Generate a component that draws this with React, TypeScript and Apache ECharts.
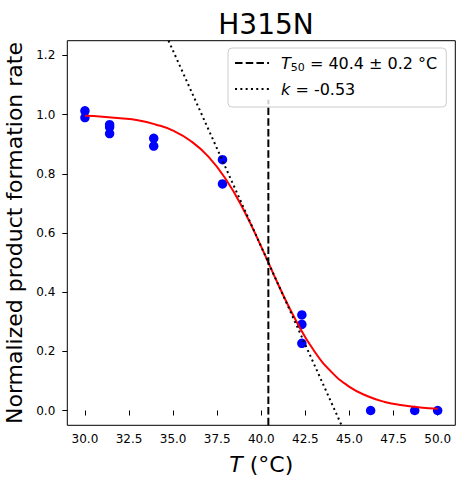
import React, { useEffect, useRef } from "react";
import * as echarts from "echarts";

const FONT = "DejaVu Sans";

// Measured data (temperature °C, normalized rate)
const POINT_T = [30, 30, 31.4, 31.4, 31.4, 33.9, 33.9, 37.8, 37.8, 42.3, 42.3, 42.3, 46.2, 48.7, 50];
const POINT_RATE = [1.013, 0.99, 0.966, 0.958, 0.936, 0.92, 0.894, 0.848, 0.766, 0.323, 0.291, 0.227, 0, 0, 0];

// Fitted sigmoid curve
const FIT_T = [30, 31, 32, 33, 34, 35, 36, 37, 38, 39, 40, 41, 42, 43, 44, 45, 46, 47, 48, 49, 50];
const FIT_RATE = [0.996, 0.993, 0.988, 0.981, 0.967, 0.946, 0.911, 0.858, 0.781, 0.678, 0.553, 0.421, 0.3, 0.201, 0.129, 0.08, 0.049, 0.029, 0.0175, 0.0104, 0.0061];

// Fit parameters
const T50 = 40.4;
const T50_ERR = 0.2;
const K = -0.53;

// Vertical T50 marker extent
const VLINE_Y = [-0.05, 1.05];
// Tangent line extent (temperatures)
const TANGENT_T = [34, 45];

const X_TICKS = [30, 32.5, 35, 37.5, 40, 42.5, 45, 47.5, 50];
const Y_TICKS = [0, 0.2, 0.4, 0.6, 0.8, 1.0, 1.2];

export default function App() {
  const ref = useRef<HTMLDivElement>(null);

  useEffect(() => {
    if (!ref.current) return;
    const chart = echarts.init(ref.current, null, { renderer: "svg" });

    const scatterData = POINT_T.map((t, i) => [t, POINT_RATE[i]]);
    const fitData = FIT_T.map((t, i) => [t, FIT_RATE[i]]);
    const vlineData = VLINE_Y.map((y) => [T50, y]);
    const tangentData = TANGENT_T.map((t) => [t, 0.5 + (K / 4) * (t - T50)]);

    chart.setOption({
      animation: false,
      textStyle: { fontFamily: FONT },
      title: {
        text: "H315N",
        left: 261,
        top: 5,
        textAlign: "center",
        textStyle: { fontSize: 28, fontWeight: "normal", color: "#000", fontFamily: FONT },
      },
      grid: {
        left: 67.3,
        right: 8.7,
        top: 40.7,
        bottom: 61.7,
        show: true,
        borderColor: "#000",
        borderWidth: 1,
        backgroundColor: "transparent",
        containLabel: false,
        outerBoundsMode: "none",
      },
      legend: {
        data: ["T50", "k"],
        orient: "vertical",
        right: 17.7,
        top: 48,
        padding: [5, 9, 8, 6],
        itemGap: 6,
        itemWidth: 34,
        itemHeight: 14,
        selectedMode: false,
        backgroundColor: "rgba(255,255,255,0.8)",
        borderColor: "#cccccc",
        borderWidth: 1,
        borderRadius: 4,
        itemStyle: { opacity: 0 },
        formatter: (name: string) =>
          name === "T50"
            ? `{i|T}{s|50} = ${T50.toFixed(1)} ± ${T50_ERR.toFixed(1)} °C`
            : `{i|k} = ${K.toFixed(2)}`,
        textStyle: {
          fontSize: 16,
          color: "#000",
          fontFamily: FONT,
          lineHeight: 20,
          padding: [0, 0, 0, 7],
          rich: {
            i: { fontSize: 16, fontStyle: "italic", fontFamily: FONT, color: "#000", lineHeight: 20 },
            s: { fontSize: 11, fontFamily: FONT, color: "#000", lineHeight: 11, verticalAlign: "bottom" },
          },
        },
      },
      xAxis: {
        type: "value",
        min: 29,
        max: 51,
        name: "{i|T} (°C)",
        nameLocation: "middle",
        nameGap: 28,
        nameTextStyle: {
          fontSize: 22,
          color: "#000",
          fontFamily: FONT,
          rich: { i: { fontSize: 22, fontStyle: "italic", fontFamily: FONT, color: "#000" } },
        },
        axisLine: { show: false },
        splitLine: { show: false },
        axisTick: { show: true, inside: false, length: 5, customValues: X_TICKS, lineStyle: { color: "#000", width: 1 } },
        axisLabel: {
          customValues: X_TICKS,
          formatter: (v: number) => v.toFixed(1),
          fontSize: 12,
          color: "#000",
          fontFamily: FONT,
          margin: 8,
        },
      },
      yAxis: {
        type: "value",
        min: -0.05,
        max: 1.25,
        name: "Normalized product formation rate",
        nameLocation: "middle",
        nameGap: 36,
        nameTextStyle: { fontSize: 22, color: "#000", fontFamily: FONT },
        axisLine: { show: false },
        splitLine: { show: false },
        axisTick: { show: true, inside: false, length: 5, customValues: Y_TICKS, lineStyle: { color: "#000", width: 1 } },
        axisLabel: {
          customValues: Y_TICKS,
          formatter: (v: number) => v.toFixed(1),
          fontSize: 12,
          color: "#000",
          fontFamily: FONT,
          margin: 12,
        },
      },
      series: [
        {
          name: "data",
          type: "scatter",
          data: scatterData,
          symbolSize: 9.5,
          itemStyle: { color: "#0000ff", opacity: 1 },
          z: 2,
        },
        {
          name: "fit",
          type: "line",
          data: fitData,
          smooth: true,
          showSymbol: false,
          symbol: "none",
          lineStyle: { color: "#ff0000", width: 2 },
          z: 3,
        },
        {
          name: "T50",
          type: "line",
          data: vlineData,
          showSymbol: false,
          symbol: "none",
          lineStyle: { color: "#000", width: 2, type: [7.5, 3.2] },
          itemStyle: { color: "#000" },
          z: 3,
        },
        {
          name: "k",
          type: "line",
          data: tangentData,
          showSymbol: false,
          symbol: "none",
          clip: true,
          lineStyle: { color: "#000", width: 2, type: [2, 3.3] },
          itemStyle: { color: "#000" },
          z: 3,
        },
      ],
    });

    return () => chart.dispose();
  }, []);

  return (
    <div
      ref={ref}
      style={{ position: "fixed", left: 0, top: 0, width: 464, height: 487, background: "#fff" }}
    />
  );
}
